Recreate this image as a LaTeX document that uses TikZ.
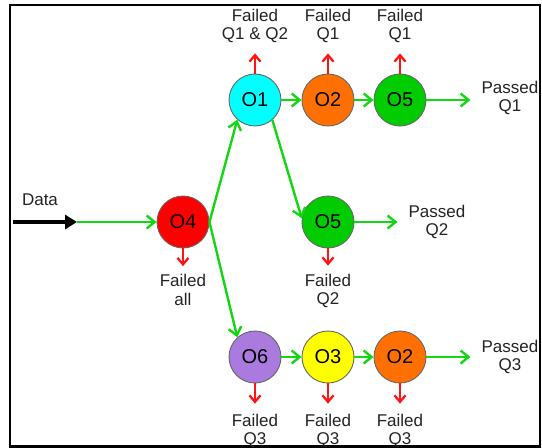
\documentclass[tikz,border=0pt]{standalone}
\usepackage{fontspec}
\setmainfont{Liberation Sans}
\usetikzlibrary{arrows.meta}

\definecolor{passgreen}{RGB}{20,215,20}
\definecolor{failred}{RGB}{255,20,20}
\definecolor{ocyan}{RGB}{0,255,255}
\definecolor{oorange}{RGB}{255,112,0}
\definecolor{ogreen}{RGB}{0,204,0}
\definecolor{ored}{RGB}{255,0,0}
\definecolor{opurple}{RGB}{170,122,222}
\definecolor{oyellow}{RGB}{255,255,0}
\definecolor{txt}{RGB}{35,35,35}

\tikzset{
  op/.style={circle, draw=black!60, line width=0.9pt, minimum size=52pt, inner sep=0pt,
             font=\fontsize{20}{22}\selectfont, text=black},
  lbl/.style={align=center, inner sep=0pt, text=txt, font=\fontsize{17}{18.8}\selectfont},
  pass/.style={draw=passgreen, line width=2.4pt,
               -{Straight Barb[length=8pt,width=13pt,line width=2.4pt]}},
  fail/.style={draw=failred, line width=2.3pt,
               -{Straight Barb[length=6.5pt,width=11pt,line width=2.3pt]}},
  datain/.style={draw=black, line width=4.5pt,
                 -{Triangle[length=12pt,width=14pt]}}
}

\begin{document}
\begin{tikzpicture}[x=1pt,y=-1pt]
  \useasboundingbox (0,0) rectangle (542,448);
  \draw[line width=2.5pt] (10,5) rectangle (540,446.5);

  % operators
  \node[op, fill=ocyan]   (o1)  at (255,100) {O1};
  \node[op, fill=oorange] (o2a) at (328,100) {O2};
  \node[op, fill=ogreen]  (o5a) at (400,100) {O5};
  \node[op, fill=ored]    (o4)  at (183,222) {O4};
  \node[op, fill=ogreen]  (o5b) at (328,222) {O5};
  \node[op, fill=opurple] (o6)  at (255,357) {O6};
  \node[op, fill=oyellow] (o3)  at (328,357) {O3};
  \node[op, fill=oorange] (o2b) at (400,357) {O2};

  % labels
  \node[lbl] (data) at (40,200) {Data};
  \node[lbl] (f1)  at (255,26) {Failed\\Q1 \& Q2};
  \node[lbl] (f2)  at (328,26) {Failed\\Q1};
  \node[lbl] (f3)  at (400,26) {Failed\\Q1};
  \node[lbl] (fall) at (183,290) {Failed\\all};
  \node[lbl] (fq2) at (328,291) {Failed\\Q2};
  \node[lbl] (fq3a) at (255,431) {Failed\\Q3};
  \node[lbl] (fq3b) at (328,431) {Failed\\Q3};
  \node[lbl] (fq3c) at (400,431) {Failed\\Q3};
  \node[lbl] (p1) at (510,98)  {Passed\\Q1};
  \node[lbl] (p2) at (437,222) {Passed\\Q2};
  \node[lbl] (p3) at (510,357) {Passed\\Q3};

  % data input
  \coordinate (din) at (13,222);
  \coordinate (dmid) at (77,222);
  \draw[pass] (dmid) -- (o4.west);
  \draw[datain] (din) -- (dmid);

  % passing flows
  \draw[pass] (o4.east) -- (o1.-132);
  \draw[pass] (o4.east) -- (o6.132);
  \draw[pass] (o1.-49) -- (o5b.172);
  \draw[pass] (o1) -- (o2a);
  \draw[pass] (o2a) -- (o5a);
  \draw[pass, shorten >=11pt] (o5a.east) -- (p1.west |- o5a.east);
  \draw[pass, shorten >=11pt] (o5b.east) -- (p2.west |- o5b.east);
  \draw[pass] (o6) -- (o3);
  \draw[pass] (o3) -- (o2b);
  \draw[pass, shorten >=11pt] (o2b.east) -- (p3.west |- o2b.east);

  % failing flows
  \draw[fail, shorten >=10pt] (o1.north) -- (f1.south);
  \draw[fail, shorten >=10pt] (o2a.north) -- (f2.south);
  \draw[fail, shorten >=10pt] (o5a.north) -- (f3.south);
  \draw[fail, shorten >=8pt] (o4.south) -- (fall.north);
  \draw[fail, shorten >=8pt] (o5b.south) -- (fq2.north);
  \draw[fail, shorten >=10pt] (o6.south) -- (fq3a.north);
  \draw[fail, shorten >=10pt] (o3.south) -- (fq3b.north);
  \draw[fail, shorten >=10pt] (o2b.south) -- (fq3c.north);
\end{tikzpicture}
\end{document}
